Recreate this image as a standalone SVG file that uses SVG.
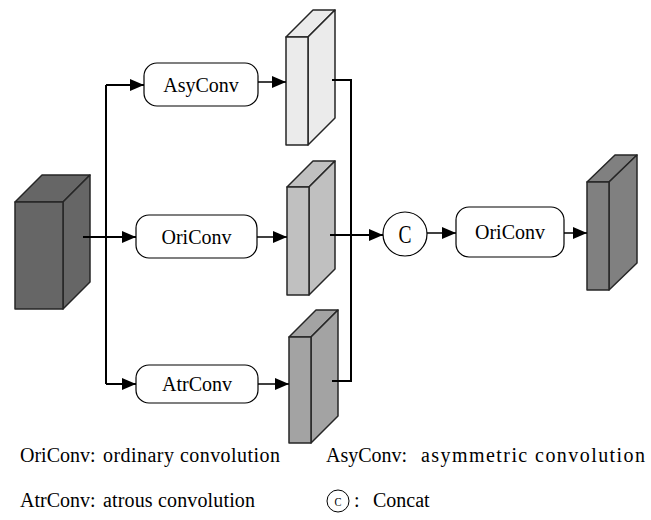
<svg xmlns="http://www.w3.org/2000/svg" width="651" height="520" viewBox="0 0 651 520">
<defs>
<marker id="arr" viewBox="0 0 14 12" refX="14" refY="6" markerWidth="14" markerHeight="12" markerUnits="userSpaceOnUse" orient="auto">
<path d="M0,0 L14,6 L0,12 z" fill="#000"/>
</marker>
<style>
.blk{stroke:#262626;stroke-width:1.5;stroke-linejoin:round}
.box{fill:#fff;stroke:#000;stroke-width:1.2}
.ln{fill:none;stroke:#000;stroke-width:2}
.ln2{fill:none;stroke:#000;stroke-width:1.5}
text{font-family:'Liberation Serif','Times New Roman',Times,Tinos,'Noto Serif','DejaVu Serif',serif}
</style>
</defs>
<rect width="651" height="520" fill="#fff"/>

<g id="input">
<polygon class="blk" fill="#666666" points="15,202 42,175 90,175 63,202"/>
<polygon class="blk" fill="#666666" points="63,202 90,175 90,282 63,309"/>
<rect class="blk" fill="#666666" x="15" y="202" width="48" height="107"/>
</g>

<g id="asyconv">
<rect class="box" x="144" y="63" width="114" height="43" rx="13"/>
<text x="201" y="91.5" font-size="20" text-anchor="middle">AsyConv</text>
</g>
<g id="oriconv1">
<rect class="box" x="136" y="215" width="121" height="43" rx="13"/>
<text x="196.5" y="243.5" font-size="20" text-anchor="middle">OriConv</text>
</g>
<g id="atrconv">
<rect class="box" x="136" y="365" width="122" height="38" rx="13"/>
<text x="197" y="391" font-size="20" text-anchor="middle">AtrConv</text>
</g>

<g id="feat_asy">
<polygon class="blk" fill="#ebebeb" points="286,37 313,10 335,10 308,37"/>
<polygon class="blk" fill="#ebebeb" points="308,37 335,10 335,118 308,145"/>
<rect class="blk" fill="#ebebeb" x="286" y="37" width="22" height="108"/>
</g>
<g id="feat_ori">
<polygon class="blk" fill="#c0c0c0" points="287,187 313,161 335,161 309,187"/>
<polygon class="blk" fill="#c0c0c0" points="309,187 335,161 335,269 309,295"/>
<rect class="blk" fill="#c0c0c0" x="287" y="187" width="22" height="108"/>
</g>
<g id="feat_atr">
<polygon class="blk" fill="#a3a3a3" points="289,337 316,310 338,310 311,337"/>
<polygon class="blk" fill="#a3a3a3" points="311,337 338,310 338,416 311,443"/>
<rect class="blk" fill="#a3a3a3" x="289" y="337" width="22" height="106"/>
</g>

<g id="concat">
<circle cx="405" cy="234" r="22" fill="#fff" stroke="#000" stroke-width="1.2"/>
<text x="405" y="243" font-size="25" text-anchor="middle" textLength="13" lengthAdjust="spacingAndGlyphs">C</text>
</g>
<g id="oriconv2">
<rect class="box" x="456" y="207" width="108" height="50" rx="13"/>
<text x="510" y="239" font-size="20" text-anchor="middle">OriConv</text>
</g>
<g id="output">
<polygon class="blk" fill="#808080" points="587,182 615,155 637,155 609,182"/>
<polygon class="blk" fill="#808080" points="609,182 637,155 637,263 609,290"/>
<rect class="blk" fill="#808080" x="587" y="182" width="22" height="108"/>
</g>

<g id="connectors">
<polyline class="ln" points="83,237 136,237" marker-end="url(#arr)"/>
<polyline class="ln" points="106,85 106,384"/>
<polyline class="ln" points="106,85 144,85" marker-end="url(#arr)"/>
<polyline class="ln" points="106,384 136,384" marker-end="url(#arr)"/>
<polyline class="ln2" points="258,82 286,82" marker-end="url(#arr)"/>
<polyline class="ln2" points="257,237 287,237" marker-end="url(#arr)"/>
<polyline class="ln2" points="258,384 289,384" marker-end="url(#arr)"/>
<polyline class="ln" points="332,80 351,80 351,381 332,381"/>
<polyline class="ln" points="330,235 383,235" marker-end="url(#arr)"/>
<polyline class="ln2" points="427,233 456,233" marker-end="url(#arr)"/>
<polyline class="ln2" points="564,233 587,233" marker-end="url(#arr)"/>
</g>

<g id="legend" font-size="20">
<text x="20" y="462">OriConv:</text>
<text x="103" y="462" textLength="177" lengthAdjust="spacing">ordinary convolution</text>
<text x="326" y="462">AsyConv:</text>
<text x="421" y="462" textLength="224" lengthAdjust="spacing">asymmetric convolution</text>
<text x="20" y="507">AtrConv:</text>
<text x="103" y="507" textLength="152" lengthAdjust="spacing">atrous convolution</text>
<circle cx="338" cy="501" r="11" fill="#fff" stroke="#000" stroke-width="1"/>
<text x="338" y="505.5" font-size="13" text-anchor="middle" textLength="7" lengthAdjust="spacingAndGlyphs">C</text>
<text x="354" y="507">:</text>
<text x="373" y="507">Concat</text>
</g>
</svg>
